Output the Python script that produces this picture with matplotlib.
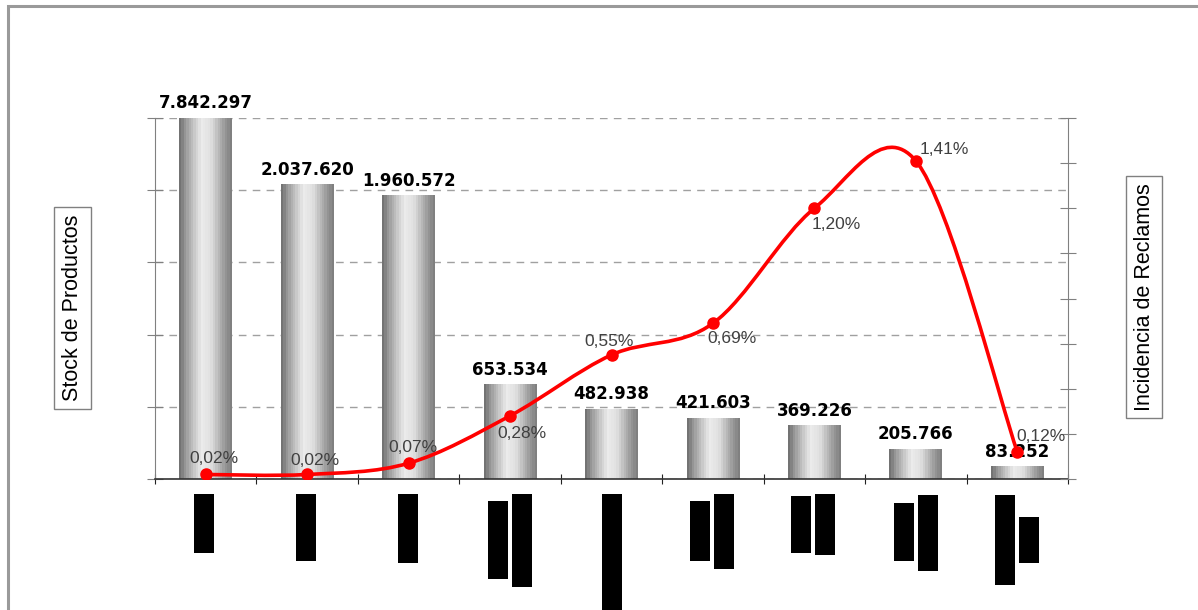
import numpy as np
import matplotlib
matplotlib.use("Agg")
import matplotlib.pyplot as plt
from matplotlib.path import Path
from matplotlib.patches import PathPatch, Rectangle
from matplotlib.transforms import ScaledTranslation

plt.rcParams['font.family'] = ['Liberation Sans', 'DejaVu Sans']

# stock por categoria y porcentaje de reclamos
stock = [7842297, 2037620, 1960572, 653534, 482938, 421603, 369226, 205766, 83252]
stock_labels = ['7.842.297', '2.037.620', '1.960.572', '653.534', '482.938',
                '421.603', '369.226', '205.766', '83.252']
reclamos = [0.02, 0.02, 0.07, 0.28, 0.55, 0.69, 1.20, 1.41, 0.12]
reclamos_labels = ['0,02%', '0,02%', '0,07%', '0,28%', '0,55%', '0,69%', '1,20%', '1,41%', '0,12%']

stock_max = 2500000
reclamos_max = 1.6

# desplazamiento (px) de cada etiqueta de porcentaje
pct_offsets = [(8, 16), (8, 14), (4, 16), (12, -18), (-2, 13), (19, -15), (22, -16), (28, 11), (24, 15)]

# rectangulos negros bajo cada categoria: (dx, dy, ancho, alto) en px
bloques = [
    [(-12, 15, 20, 59)],
    [(-11, 15, 20, 67)],
    [(-11, 15, 20, 69)],
    [(-22, 22, 20, 78), (2, 15, 20, 93)],
    [(-10, 15, 20, 116)],
    [(-23, 22, 20, 60), (1, 15, 20, 75)],
    [(-23, 17, 20, 57), (1, 15, 20, 61)],
    [(-22, 24, 20, 58), (2, 16, 20, 76)],
    [(-22, 16, 20, 90), (2, 38, 20, 46)],
]

W, H = 1198, 610
fig = plt.figure(figsize=(W / 100, H / 100), dpi=100)
fig.patch.set_facecolor('white')

# marco exterior
fig.patches.append(Rectangle((8 / W, -0.05), 1.2, 1 - 6 / H + 0.05, transform=fig.transFigure,
                             fill=False, ec='#9a9a9a', lw=2.2))

ax = fig.add_axes([155 / W, 131 / H, 913 / W, 361 / H])
x = np.arange(len(stock))

# barras con degradado tipo cilindro
bars = ax.bar(x, stock, width=0.52, color='none', zorder=2)
perfil = np.interp(np.linspace(0, 1, 22), [0, 0.12, 0.42, 0.6, 0.88, 1],
                   [0.45, 0.62, 0.92, 0.88, 0.6, 0.5])
grad = perfil[np.newaxis, :]
for b in bars:
    x0, w, h = b.get_x(), b.get_width(), b.get_height()
    ax.imshow(grad, cmap='gray', vmin=0, vmax=1, aspect='auto', interpolation='nearest',
              extent=(x0, x0 + w, 0, h), zorder=2)

ax.set_xlim(-0.5, len(stock) - 0.5)
ax.set_ylim(0, stock_max)
ax.set_yticks(np.arange(0, stock_max + 1, 500000))
ax.set_xticks(np.arange(-0.5, len(stock), 1))
ax.tick_params(axis='y', direction='inout', length=12, color='#808080', labelleft=False)
ax.tick_params(axis='x', direction='inout', length=7, color='#222222', labelbottom=False)
ax.yaxis.grid(True, color='#a0a0a0', linestyle=(0, (5.5, 4.5)), lw=1, zorder=0.5)
ax.set_axisbelow(True)
for s in ['top', 'right']:
    ax.spines[s].set_visible(False)
ax.spines['left'].set_color('#808080')
ax.spines['bottom'].set_color('#333333')
ax.spines['bottom'].set_linewidth(1.2)

for i, (v, lab) in enumerate(zip(stock, stock_labels)):
    ax.annotate(lab, (i, min(v, stock_max)), xytext=(0, 15), textcoords='offset pixels',
                ha='center', va='center', fontsize=12, fontweight='bold',
                family='DejaVu Sans', color='black', annotation_clip=False, zorder=5)

# eje secundario: incidencia de reclamos
ax2 = ax.twinx()
ax2.set_ylim(0, reclamos_max)
ax2.set_yticks(np.arange(0, reclamos_max + 0.01, 0.2))
ax2.tick_params(axis='y', direction='inout', length=12, color='#808080', labelright=False)
for s in ['top', 'left', 'bottom']:
    ax2.spines[s].set_visible(False)
ax2.spines['right'].set_color('#808080')

# linea suavizada (Catmull-Rom como curvas Bezier)
pts = np.column_stack([x, reclamos]).astype(float)
ext = np.vstack([pts[0], pts, pts[-1]])
verts = [pts[0]]
codes = [Path.MOVETO]
for k in range(len(pts) - 1):
    p0, p1, p2, p3 = ext[k], ext[k + 1], ext[k + 2], ext[k + 3]
    verts += [p1 + (p2 - p0) / 6, p2 - (p3 - p1) / 6, p2]
    codes += [Path.CURVE4] * 3
ax2.add_patch(PathPatch(Path(verts, codes), fc='none', ec='#ff0000', lw=2.6, zorder=4,
                        capstyle='round', joinstyle='round'))
ax2.plot(x, reclamos, 'o', color='#ff0000', ms=8, zorder=5)

for i, (v, lab) in enumerate(zip(reclamos, reclamos_labels)):
    dx, dy = pct_offsets[i]
    ax2.annotate(lab, (i, v), xytext=(dx, dy), textcoords='offset pixels',
                 ha='center', va='center', fontsize=12.5, color='#404040', zorder=6)

# titulos de eje en recuadro
caja = dict(boxstyle='square,pad=0.35', fc='white', ec='#808080', lw=1)
fig.text(72.5 / W, 1 - 308 / H, 'Stock de Productos', rotation=90, ha='center', va='center',
         fontsize=15.5, bbox=caja)
fig.text(1144 / W, 1 - 297 / H, 'Incidencia de Reclamos', rotation=90, ha='center', va='center',
         fontsize=15.5, bbox=caja)

# etiquetas de categoria tapadas
for i, grupo in enumerate(bloques):
    anchor = ScaledTranslation(i, 0, ax.get_xaxis_transform())
    for dx, dy, w, h in grupo:
        r = Rectangle((dx / 100, -(dy + h) / 100), w / 100, h / 100,
                      transform=fig.dpi_scale_trans + anchor, fc='black', ec='none',
                      clip_on=False)
        fig.patches.append(r)

fig.savefig('out.png', dpi=100)
